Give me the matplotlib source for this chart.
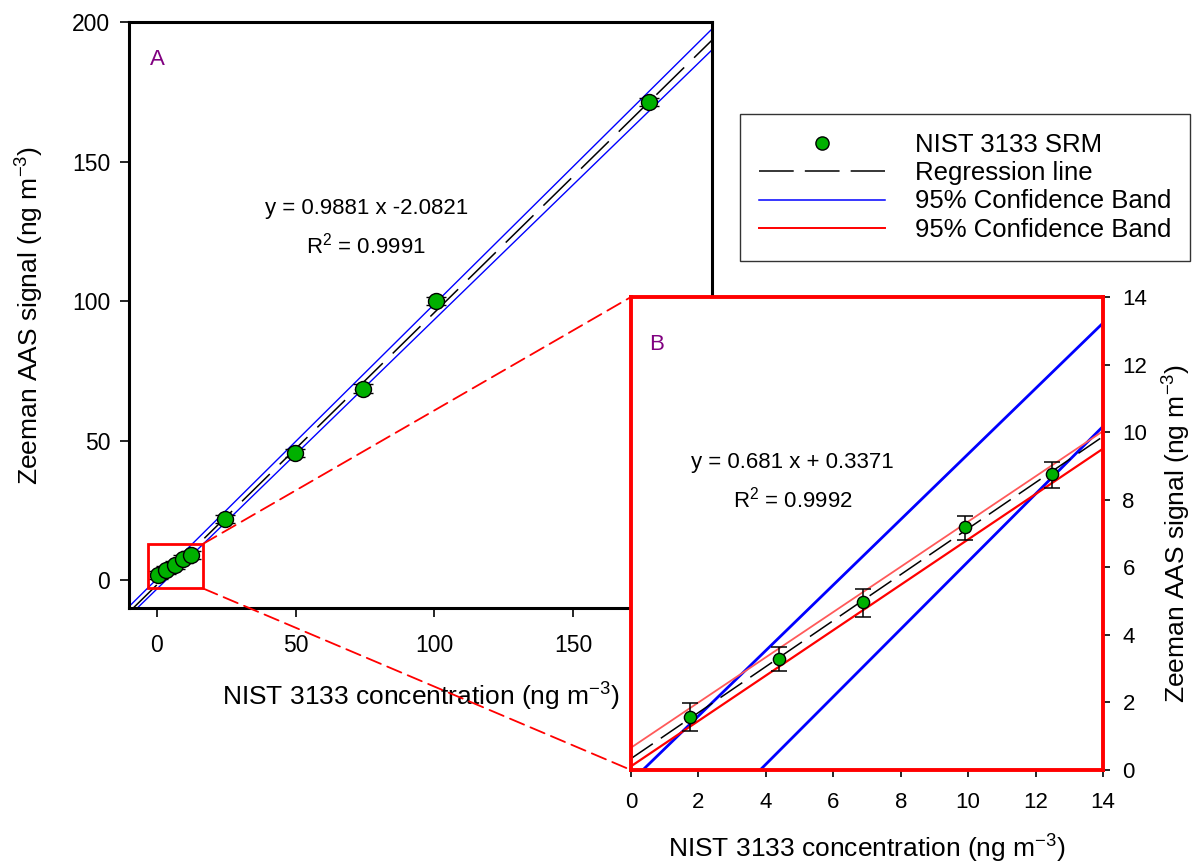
import matplotlib
matplotlib.use("Agg")
import matplotlib.pyplot as plt
from matplotlib.lines import Line2D
from matplotlib.patches import Rectangle, ConnectionPatch

plt.rcParams['font.family'] = ['Liberation Sans', 'DejaVu Sans']
plt.rcParams['mathtext.fontset'] = 'custom'
plt.rcParams['mathtext.rm'] = 'Liberation Sans'
plt.rcParams['mathtext.it'] = 'Liberation Sans:italic'
plt.rcParams['lines.scale_dashes'] = False

# panel A: full range calibration
a_conc = [0.5, 3.5, 6.5, 9.5, 12.5, 24.5, 49.9, 74.2, 100.7, 177.3]
a_signal = [1.8, 3.6, 5.4, 7.6, 9.0, 21.9, 45.5, 68.6, 100.1, 171.3]
a_err = [1.5, 1.5, 1.5, 1.5, 1.5, 1.5, 1.5, 1.5, 1.5, 1.5]
a_line_x = [-10, 200]
a_reg_y = [-11.5, 193.5]
a_upper_y = [-9.5, 197.5]
a_lower_y = [-12.9, 190.0]
a_ticks = [0, 50, 100, 150, 200]

# panel B: low range zoom
b_conc = [1.75, 4.38, 6.89, 9.90, 12.49]
b_signal = [1.57, 3.29, 4.96, 7.19, 8.77]
b_err_low = [0.41, 0.37, 0.44, 0.38, 0.41]
b_err_high = [0.41, 0.35, 0.41, 0.33, 0.36]
b_line_x = [0, 14]
b_reg_y = [0.337, 9.87]
b_red_upper_y = [0.66, 10.03]
b_red_lower_y = [0.11, 9.51]
b_blue_upper_x, b_blue_upper_y = [0.35, 14], [0, 13.23]
b_blue_lower_x, b_blue_lower_y = [3.83, 14], [0, 10.17]
b_ticks = [0, 2, 4, 6, 8, 10, 12, 14]

green = '#00b000'
purple = '#800080'
xlab = 'NIST 3133 concentration (ng m$^{-3}$)'
ylab = 'Zeeman AAS signal (ng m$^{-3}$)'

fig = plt.figure(figsize=(11.98, 8.64), dpi=100)

# ---- panel A
ax = fig.add_axes([129/1198, 1-608/864, 583/1198, 586/864])
ax.plot(a_line_x, a_upper_y, color='blue', lw=1.0)
ax.plot(a_line_x, a_lower_y, color='blue', lw=1.0)
ax.plot(a_line_x, a_reg_y, color='black', lw=1.1, dashes=(28, 10))
ax.errorbar(a_conc, a_signal, yerr=a_err, fmt='none', ecolor='black',
            elinewidth=1.0, capsize=7, capthick=1.0)
ax.plot(a_conc, a_signal, 'o', color=green, mec='black', mew=1.0, ms=11.5)
ax.set_xlim(-10, 200)
ax.set_ylim(-10, 200)
ax.set_xticks(a_ticks)
ax.set_yticks(a_ticks)
for s in ax.spines.values():
    s.set_linewidth(2.2)
ax.tick_params(direction='out', length=6.5, width=1.2, labelsize=16.5)
ax.tick_params(axis='x', pad=12)
ax.tick_params(axis='y', pad=7)
ax.set_xlabel(xlab, fontsize=19)
ax.set_ylabel(ylab, fontsize=19)
ax.xaxis.set_label_coords(0.5, -0.124)
ax.yaxis.set_label_coords(-0.142, 0.5)
ax.text(0.4, 186.7, 'A', color=purple, fontsize=16, ha='center', va='center')
ax.text(75.5, 133, 'y = 0.9881 x -2.0821', fontsize=16, ha='center', va='center')
ax.text(75.5, 120, 'R$^{2}$ = 0.9991', fontsize=16, ha='center', va='center')
ax.add_patch(Rectangle((-3, -3), 19.7, 16, fill=False, edgecolor='red', lw=2.0, zorder=5))

# ---- panel B
bx = fig.add_axes([631/1198, 1-770/864, 472/1198, 473/864])
bx.set_facecolor('white')
bx.plot(b_blue_upper_x, b_blue_upper_y, color='blue', lw=2.0)
bx.plot(b_blue_lower_x, b_blue_lower_y, color='blue', lw=2.0)
bx.plot(b_line_x, b_red_upper_y, color='#ff5a5a', lw=1.3)
bx.plot(b_line_x, b_red_lower_y, color='red', lw=1.6)
bx.plot(b_line_x, b_reg_y, color='black', lw=1.1, dashes=(19, 7))
bx.errorbar(b_conc, b_signal, yerr=[b_err_low, b_err_high], fmt='none', ecolor='black',
            elinewidth=1.1, capsize=5.6, capthick=1.1)
bx.plot(b_conc, b_signal, 'o', color=green, mec='black', mew=1.0, ms=8.8)
bx.set_xlim(0, 14)
bx.set_ylim(0, 14)
bx.set_xticks(b_ticks)
bx.set_yticks(b_ticks)
for s in bx.spines.values():
    s.set_linewidth(2.8)
    s.set_color('red')
bx.yaxis.tick_right()
bx.yaxis.set_label_position('right')
bx.tick_params(direction='out', length=5, width=1.2, labelsize=16)
bx.tick_params(axis='x', pad=11)
bx.tick_params(axis='y', pad=9)
bx.set_xlabel(xlab, fontsize=19)
bx.set_ylabel(ylab, fontsize=19)
bx.xaxis.set_label_coords(0.5, -0.133)
bx.yaxis.set_label_coords(1.123, 0.5)
bx.text(0.77, 12.6, 'B', color=purple, fontsize=16, ha='center', va='center')
bx.text(4.8, 9.1, 'y = 0.681 x + 0.3371', fontsize=16, ha='center', va='center')
bx.text(4.8, 8.0, 'R$^{2}$ = 0.9992', fontsize=16, ha='center', va='center')

# zoom connector lines
for ya, yb in [(13, 14), (-3, 0)]:
    con = ConnectionPatch(xyA=(16.7, ya), coordsA=ax.transData,
                          xyB=(0, yb), coordsB=bx.transData,
                          color='red', lw=1.3, linestyle=(0, (11, 5)))
    fig.add_artist(con)

# legend
handles = [
    Line2D([], [], ls='none', marker='o', color=green, mec='black', mew=1.0, ms=9.5),
    Line2D([], [], color='black', lw=1.1, dashes=(25, 8)),
    Line2D([], [], color='blue', lw=1.1),
    Line2D([], [], color='red', lw=1.4),
]
labels = ['NIST 3133 SRM', 'Regression line', '95% Confidence Band', '95% Confidence Band']
leg = fig.legend(handles, labels, loc='upper left', bbox_to_anchor=(740/1198, 1-114/864),
                 borderaxespad=0, fontsize=18.5, frameon=True, fancybox=False,
                 edgecolor='black', borderpad=0.75, handlelength=4.9,
                 handletextpad=1.15, labelspacing=0.16)
leg.get_frame().set_linewidth(1.0)

fig.savefig('out.png', dpi=100)
